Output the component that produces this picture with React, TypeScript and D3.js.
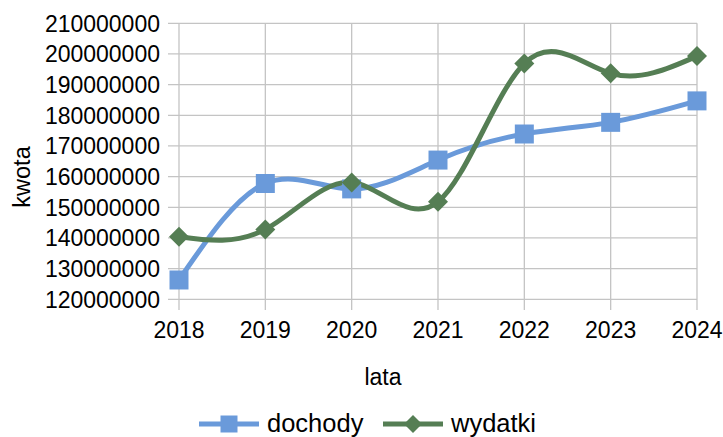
import React from 'react';
import * as d3 from 'd3';

const years = [2018, 2019, 2020, 2021, 2022, 2023, 2024];
const dochody = [126300000, 157800000, 156000000, 165400000, 173900000, 177700000, 184700000];
const wydatki = [140400000, 142800000, 158100000, 151800000, 196900000, 193700000, 199300000];
const yTicks = [120000000, 130000000, 140000000, 150000000, 160000000, 170000000, 180000000, 190000000, 200000000, 210000000];

const BLUE = '#6a9ada';
const GREEN = '#557e54';
const GRID = '#c4c4c4';
const FONT = '"Liberation Sans", Arial, sans-serif';

const App = () => {
  const width = 723;
  const height = 437;

  const x = d3.scaleLinear().domain([2018, 2024]).range([179, 697]);
  const y = d3.scaleLinear().domain([120000000, 210000000]).range([299.3, 23.3]);

  const line = d3.line<number>()
    .x((_, i) => x(years[i]))
    .y(d => y(d))
    .curve(d3.curveNatural);

  const square = (cx: number, cy: number, s: number) =>
    `M${cx - s / 2},${cy - s / 2}h${s}v${s}h${-s}Z`;
  const diamond = (cx: number, cy: number, s: number) =>
    `M${cx},${cy - s / 2}L${cx + s / 2},${cy}L${cx},${cy + s / 2}L${cx - s / 2},${cy}Z`;

  return (
    <svg width={width} height={height} style={{ position: 'absolute', left: 0, top: 0, background: '#fff' }} fontFamily={FONT}>
      <rect width={width} height={height} fill="#fff" />
      {/* horizontal grid */}
      {yTicks.map(t => (
        <line key={t} x1={168} x2={697} y1={y(t)} y2={y(t)} stroke={GRID} strokeWidth={1.3} />
      ))}
      {/* vertical grid */}
      {years.map(yr => (
        <line key={yr} x1={x(yr)} x2={x(yr)} y1={23.3} y2={310} stroke={GRID} strokeWidth={1.3} />
      ))}
      {/* y tick labels */}
      {yTicks.map(t => (
        <text key={t} x={160} y={y(t)} dy="0.36em" textAnchor="end" fontSize={23} fill="#000">
          {t}
        </text>
      ))}
      {/* x tick labels */}
      {years.map(yr => (
        <text key={yr} x={x(yr)} y={338} textAnchor="middle" fontSize={23} fill="#000">
          {yr}
        </text>
      ))}
      <text x={383} y={385} textAnchor="middle" fontSize={23} fill="#000">lata</text>
      <text transform="translate(30,177) rotate(-90)" textAnchor="middle" fontSize={23.5} fill="#000">kwota</text>

      {/* series */}
      <path d={line(dochody) || ''} fill="none" stroke={BLUE} strokeWidth={5} />
      <path d={line(wydatki) || ''} fill="none" stroke={GREEN} strokeWidth={5} />
      {dochody.map((v, i) => (
        <path key={'d' + i} d={square(x(years[i]), y(v), 19)} fill={BLUE} />
      ))}
      {wydatki.map((v, i) => (
        <path key={'w' + i} d={diamond(x(years[i]), y(v), 20)} fill={GREEN} />
      ))}

      {/* legend */}
      <line x1={199} x2={259} y1={424} y2={424} stroke={BLUE} strokeWidth={5} />
      <path d={square(229, 424, 17)} fill={BLUE} />
      <text x={267} y={432} fontSize={25.5} fill="#000">dochody</text>
      <line x1={383} x2={443} y1={424} y2={424} stroke={GREEN} strokeWidth={5} />
      <path d={diamond(413, 424, 18)} fill={GREEN} />
      <text x={451} y={432} fontSize={25.5} fill="#000">wydatki</text>
    </svg>
  );
};

export default App;
